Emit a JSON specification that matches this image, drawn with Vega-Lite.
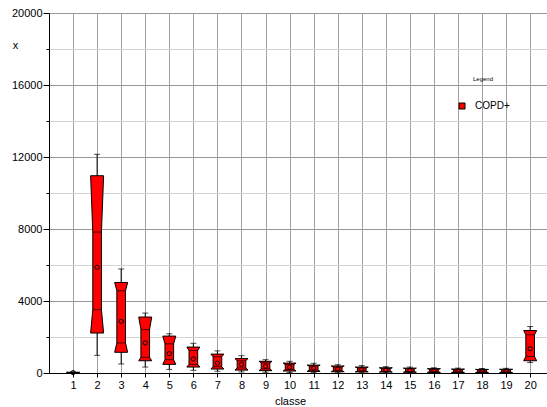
{
  "$schema": "https://vega.github.io/schema/vega-lite/v6.json",
  "width": 498,
  "height": 360,
  "autosize": "none",
  "padding": {"left": 49, "top": 13, "right": 0, "bottom": 34},
  "background": "white",
  "config": {
    "view": {"stroke": null},
    "font": "Liberation Sans",
    "axis": {"labelFont": "Liberation Sans", "titleFont": "Liberation Sans", "labelColor": "black", "titleColor": "black", "titleFontWeight": "normal", "labelFontSize": 11, "titleFontSize": 11, "labelOverlap": false},
    "axisX": {"labelOverlap": false, "labelSeparation": 0}
  },
  "data": {
    "values": [
      {"classe": 1, "wBot": 0, "q1": 5, "nLo": 10, "mean": 20, "nHi": 30, "q3": 40, "wTop": 60, "group": "COPD+"},
      {"classe": 2, "wBot": 980, "q1": 2220, "nLo": 3520, "mean": 5870, "nHi": 7830, "q3": 10960, "wTop": 12150, "group": "COPD+"},
      {"classe": 3, "wBot": 500, "q1": 1150, "nLo": 1670, "mean": 2870, "nHi": 4570, "q3": 5030, "wTop": 5780, "group": "COPD+"},
      {"classe": 4, "wBot": 330, "q1": 680, "nLo": 870, "mean": 1670, "nHi": 2410, "q3": 3110, "wTop": 3330, "group": "COPD+"},
      {"classe": 5, "wBot": 200, "q1": 480, "nLo": 740, "mean": 1080, "nHi": 1620, "q3": 2050, "wTop": 2180, "group": "COPD+"},
      {"classe": 6, "wBot": 150, "q1": 330, "nLo": 480, "mean": 780, "nHi": 1250, "q3": 1440, "wTop": 1650, "group": "COPD+"},
      {"classe": 7, "wBot": 100, "q1": 220, "nLo": 350, "mean": 550, "nHi": 900, "q3": 1050, "wTop": 1230, "group": "COPD+"},
      {"classe": 8, "wBot": 60, "q1": 160, "nLo": 280, "mean": 480, "nHi": 680, "q3": 800, "wTop": 960, "group": "COPD+"},
      {"classe": 9, "wBot": 40, "q1": 130, "nLo": 230, "mean": 380, "nHi": 560, "q3": 650, "wTop": 740, "group": "COPD+"},
      {"classe": 10, "wBot": 30, "q1": 110, "nLo": 190, "mean": 320, "nHi": 470, "q3": 550, "wTop": 650, "group": "COPD+"},
      {"classe": 11, "wBot": 20, "q1": 90, "nLo": 160, "mean": 270, "nHi": 380, "q3": 440, "wTop": 540, "group": "COPD+"},
      {"classe": 12, "wBot": 15, "q1": 70, "nLo": 130, "mean": 230, "nHi": 330, "q3": 390, "wTop": 460, "group": "COPD+"},
      {"classe": 13, "wBot": 10, "q1": 60, "nLo": 110, "mean": 200, "nHi": 280, "q3": 330, "wTop": 410, "group": "COPD+"},
      {"classe": 14, "wBot": 10, "q1": 50, "nLo": 90, "mean": 170, "nHi": 250, "q3": 290, "wTop": 350, "group": "COPD+"},
      {"classe": 15, "wBot": 5, "q1": 40, "nLo": 80, "mean": 150, "nHi": 230, "q3": 270, "wTop": 330, "group": "COPD+"},
      {"classe": 16, "wBot": 5, "q1": 35, "nLo": 70, "mean": 130, "nHi": 200, "q3": 240, "wTop": 290, "group": "COPD+"},
      {"classe": 17, "wBot": 5, "q1": 30, "nLo": 60, "mean": 120, "nHi": 180, "q3": 220, "wTop": 270, "group": "COPD+"},
      {"classe": 18, "wBot": 5, "q1": 25, "nLo": 55, "mean": 110, "nHi": 170, "q3": 200, "wTop": 250, "group": "COPD+"},
      {"classe": 19, "wBot": 5, "q1": 25, "nLo": 55, "mean": 115, "nHi": 175, "q3": 210, "wTop": 260, "group": "COPD+"},
      {"classe": 20, "wBot": 580, "q1": 680, "nLo": 920, "mean": 1350, "nHi": 2120, "q3": 2360, "wTop": 2580, "group": "COPD+"}
    ]
  },
  "resolve": {"axis": {"y": "independent"}},
  "layer": [
    {
      "mark": {"type": "rule", "color": "black", "strokeWidth": 1},
      "encoding": {
        "x": {"field": "classe", "type": "quantitative", "title": "classe",
          "scale": {"domain": [0, 20.7], "nice": false, "zero": false},
          "axis": {"values": [1,2,3,4,5,6,7,8,9,10,11,12,13,14,15,16,17,18,19,20], "format": "d", "grid": true, "gridColor": "#a0a0a0", "gridOpacity": 1, "domainColor": "black", "tickColor": "black", "tickSize": 4, "labelPadding": 2, "labelOverlap": false, "labelSeparation": 0, "labelBound": false, "labelFlush": false, "titleX": 241, "titleY": 28, "titleBaseline": "middle", "titleAlign": "center"}},
        "y": {"field": "wBot", "type": "quantitative", "title": null,
          "scale": {"domain": [0, 20000], "nice": false},
          "axis": {"orient": "left", "values": [2000, 6000, 10000, 14000, 18000], "labels": false, "domain": false, "grid": true, "gridColor": "#d4d4d4", "gridOpacity": 1, "tickColor": "black", "tickSize": 3, "title": null}},
        "y2": {"field": "wTop"}
      }
    },
    {
      "transform": [
        {"fold": ["q1", "nLo", "nHi", "q3"], "as": ["key", "value"]},
        {"calculate": "(datum.key == 'q1' || datum.key == 'q3') ? 0.27 : 0.18", "as": "hw"},
        {"calculate": "datum.classe - datum.hw", "as": "xl"},
        {"calculate": "datum.classe + datum.hw", "as": "xr"}
      ],
      "mark": {"type": "area", "orient": "horizontal", "stroke": "black", "strokeWidth": 1, "fillOpacity": 1},
      "encoding": {
        "x": {"field": "xl", "type": "quantitative", "title": "classe", "stack": null,
          "axis": {"values": [1,2,3,4,5,6,7,8,9,10,11,12,13,14,15,16,17,18,19,20], "format": "d", "labelOverlap": false, "labelSeparation": 0, "labelBound": false, "labelFlush": false}},
        "x2": {"field": "xr"},
        "y": {"field": "value", "type": "quantitative", "title": "x",
          "axis": {"orient": "left", "values": [0, 4000, 8000, 12000, 16000, 20000], "format": "d", "grid": true, "gridColor": "#999999", "gridOpacity": 1, "domainColor": "black", "tickColor": "black", "tickSize": 6, "labelPadding": 1, "title": "x", "titleAngle": 0, "titleX": -34, "titleY": 32, "titleAlign": "center", "titleBaseline": "middle"}},
        "detail": {"field": "classe", "type": "nominal"},
        "color": {"field": "group", "type": "nominal", "scale": {"range": ["#ff0000"]},
          "legend": {"title": "Legend", "orient": "none", "legendX": 408, "legendY": 63, "titleFontSize": 6, "titleFontWeight": "normal", "titleFont": "Liberation Sans", "titleColor": "black", "titlePadding": 19, "titleAnchor": "middle", "labelFont": "Liberation Sans", "labelFontSize": 10, "labelColor": "black", "labelOffset": 8, "symbolType": "square", "symbolSize": 36, "symbolStrokeColor": "black", "symbolStrokeWidth": 1, "symbolFillColor": "#ff0000", "padding": 0}}
      }
    },
    {
      "transform": [{"fold": ["nLo", "nHi"], "as": ["key", "value"]}],
      "mark": {"type": "tick", "orient": "horizontal", "size": 9, "thickness": 1, "color": "black"},
      "encoding": {
        "x": {"field": "classe", "type": "quantitative", "title": "classe",
          "axis": {"values": [1,2,3,4,5,6,7,8,9,10,11,12,13,14,15,16,17,18,19,20], "format": "d", "labelOverlap": false, "labelSeparation": 0, "labelBound": false, "labelFlush": false}},
        "y": {"field": "value", "type": "quantitative", "axis": null}
      }
    },
    {
      "transform": [{"fold": ["wBot", "wTop"], "as": ["key", "value"]}],
      "mark": {"type": "tick", "orient": "horizontal", "size": 6, "thickness": 1, "color": "black"},
      "encoding": {
        "x": {"field": "classe", "type": "quantitative", "title": "classe",
          "axis": {"values": [1,2,3,4,5,6,7,8,9,10,11,12,13,14,15,16,17,18,19,20], "format": "d", "labelOverlap": false, "labelSeparation": 0, "labelBound": false, "labelFlush": false}},
        "y": {"field": "value", "type": "quantitative", "axis": null}
      }
    },
    {
      "mark": {"type": "point", "shape": "circle", "filled": false, "color": "black", "strokeWidth": 1, "size": 18, "opacity": 1},
      "encoding": {
        "x": {"field": "classe", "type": "quantitative", "title": "classe",
          "axis": {"values": [1,2,3,4,5,6,7,8,9,10,11,12,13,14,15,16,17,18,19,20], "format": "d", "labelOverlap": false, "labelSeparation": 0, "labelBound": false, "labelFlush": false}},
        "y": {"field": "mean", "type": "quantitative", "axis": null}
      }
    }
  ]
}
